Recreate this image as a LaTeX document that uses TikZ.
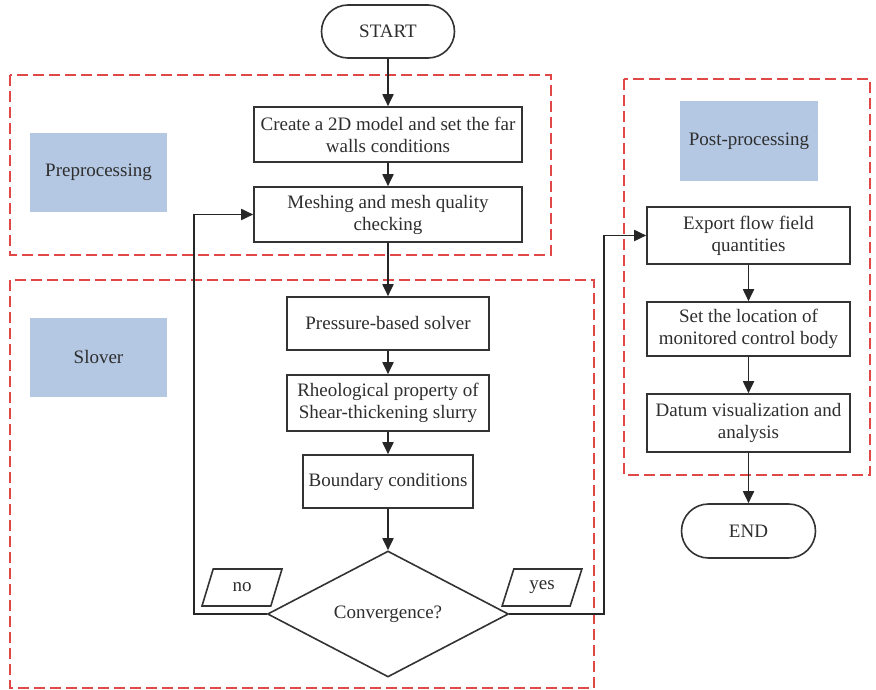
\documentclass[tikz,border=0pt]{standalone}
\usepackage{fontspec}
\setmainfont{Liberation Serif}
\usetikzlibrary{arrows.meta,shapes.geometric,shapes.misc,calc}
\definecolor{txt}{HTML}{2E2E2E}
\definecolor{lbl}{HTML}{B4C8E4}
\definecolor{dred}{HTML}{E04848}
\tikzset{
  proc/.style={draw=black!80, line width=1.6pt, fill=white, align=center, text=txt, inner sep=2pt,
     font=\fontsize{19}{22}\selectfont},
  term/.style={proc, rounded rectangle},
  lblbox/.style={fill=lbl, text=txt, align=center, font=\fontsize{19}{22}\selectfont},
  grp/.style={draw=dred, line width=1.6pt, dash pattern=on 11pt off 5pt},
  para/.style={proc, trapezium, trapezium left angle=68, trapezium right angle=112, trapezium stretches=true,
     minimum width=80pt, minimum height=37pt, inner sep=0pt},
  arr/.style={line width=1.8pt, black!85, -{Triangle[length=12pt,width=11pt]}},
}
\begin{document}
\begin{tikzpicture}[x=1pt,y=-1pt]
\useasboundingbox (0,0) rectangle (876,690);
% group boxes
\draw[grp] (10,75) rectangle (551,255);
\draw[grp] (10,280) rectangle (594,688);
\draw[grp] (624,79) rectangle (870,475);
% labels
\node[lblbox, minimum width=137pt, minimum height=79pt] (lpre) at (98.5,172.5) {Preprocessing};
\node[lblbox, minimum width=137pt, minimum height=79pt] (lsol) at (98.5,357) {Slover};
\node[lblbox, minimum width=138pt, minimum height=80pt] (lpost) at (749,141) {Post-processing};
% nodes
\node[term, minimum width=137pt, minimum height=53pt] (start) at (388,31.5) {START};
\node[proc, minimum width=268pt, minimum height=55pt] (create) at (388,134.5) {Create a 2D model and set the far\\walls conditions};
\node[proc, minimum width=268pt, minimum height=55pt] (mesh) at (388,214.5) {Meshing and mesh quality\\checking};
\node[proc, minimum width=202pt, minimum height=53pt] (press) at (388,323.5) {Pressure-based solver};
\node[proc, minimum width=202pt, minimum height=56pt] (rheo) at (388,403) {Rheological property of\\Shear-thickening slurry};
\node[proc, minimum width=170pt, minimum height=53pt] (bc) at (388,481.5) {Boundary conditions};
\node[proc, diamond, aspect=1.91, minimum width=241pt, minimum height=126pt, inner sep=0pt] (conv) at (388,614) {Convergence?};
\node[para] (no) at (242,587.5) {no};
\node[para] (yes) at (542,587.5) {yes};
\node[proc, minimum width=203pt, minimum height=57pt] (exp) at (748.5,235.5) {Export flow field\\quantities};
\node[proc, minimum width=203pt, minimum height=54pt] (loc) at (748.5,329) {Set the location of\\monitored control body};
\node[proc, minimum width=203pt, minimum height=58pt] (dat) at (748.5,423) {Datum visualization and\\analysis};
\node[term, minimum width=138pt, minimum height=54pt] (end) at (748.5,531) {END};
% connectors
\draw[arr] (start) -- (create);
\draw[arr] (create) -- (mesh);
\draw[arr] (mesh) -- (press);
\draw[arr] (press) -- (rheo);
\draw[arr] (rheo) -- (bc);
\draw[arr] (bc) -- (conv);
\coordinate (fbl) at (194,614);
\coordinate (fbr) at (604,614);
\draw[arr] (conv.west) -- (fbl) |- (mesh.west);
\draw[arr] (conv.east) -- (fbr) |- (exp.west);
\draw[arr] (exp) -- (loc);
\draw[arr] (loc) -- (dat);
\draw[arr] (dat) -- (end);
\end{tikzpicture}
\end{document}
